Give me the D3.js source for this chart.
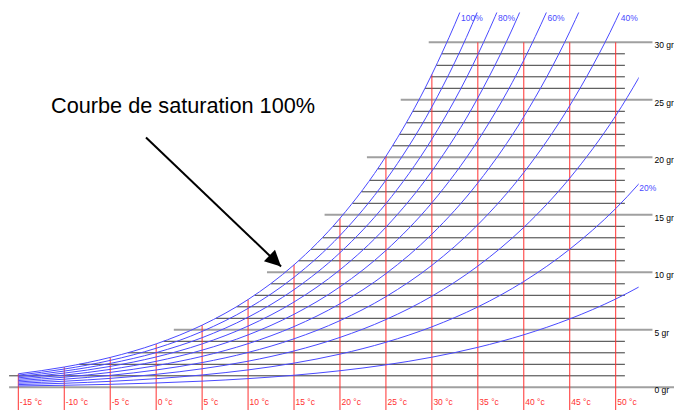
<!DOCTYPE html>
<html>
<head>
<meta charset="utf-8">
<script src="https://cdn.jsdelivr.net/npm/d3@7"></script>
<style>
  html, body { margin: 0; padding: 0; background: #fff; }
  svg { display: block; }
</style>
</head>
<body>
<svg id="chart" width="674" height="410"></svg>
<script>
// ---- data ----
const tableTemps = [-15, -10, -5, 0, 5, 10, 15, 20, 25, 30, 35, 40, 45, 50, 55];            // °C
const satPressure = [0.1913, 0.2865, 0.4215, 0.6112, 0.8726, 1.2282, 1.7058, 2.3393,
                     3.1699, 4.2470, 5.6290, 7.3849, 9.5959, 12.352, 15.762];               // kPa
const rhLevels = [10, 20, 30, 40, 50, 60, 70, 80, 90, 100];                                // %
const rhLabelled = [100, 80, 60, 40, 20];
const tempTicks = [-15, -10, -5, 0, 5, 10, 15, 20, 25, 30, 35, 40, 45, 50];
const humidityTicks = d3.range(0, 31);                                                      // g/kg
const majorHumidity = [0, 5, 10, 15, 20, 25, 30];
const annotation = "Courbe de saturation 100%";
const pressure = 101.325;   // kPa
const rhTopGr = 32.6;       // upper end of the curves (g/kg)
const rhMaxT = 52.5;        // right end of the curves (°C)

// ---- scales ----
const x = d3.scaleLinear().domain([-15, 50]).range([18.3, 615.7]);
const y = d3.scaleLinear().domain([0, 30]).range([387.3, 42.3]);
const tFromLnP = d3.scaleLinear().domain(satPressure.map(Math.log)).range(tableTemps);
const lnPFromT = d3.scaleLinear().domain(tableTemps).range(satPressure.map(Math.log));

const mix = pv => 622 * pv / (pressure - pv);          // g/kg from vapour pressure
const pvFromMix = g => pressure * g / (622 + g);
const dewPoint = g => tFromLnP(Math.log(pvFromMix(g)));
const satMix = t => mix(Math.exp(lnPFromT(t)));

const svg = d3.select("#chart");
const defs = svg.append("defs");
defs.append("clipPath").attr("id", "rhclip").append("rect")
  .attr("x", 0).attr("y", y(rhTopGr))
  .attr("width", x(rhMaxT)).attr("height", 410 - y(rhTopGr));

// ---- horizontal humidity lines ----
const gH = svg.append("g");
humidityTicks.forEach(g => {
  const major = majorHumidity.includes(g);
  let t0;
  if (g === 0) t0 = -16;
  else t0 = Math.max(-16, dewPoint(g) - (major ? 2 : 0));
  const t1 = g === 0 ? 60 : (major ? 54 : 51);
  gH.append("line")
    .attr("x1", x(t0)).attr("x2", x(t1))
    .attr("y1", y(g)).attr("y2", y(g))
    .attr("stroke", major ? "#a0a0a0" : "#3a3a3a")
    .attr("stroke-width", major ? 2 : 1);
  if (major) {
    gH.append("text")
      .attr("x", x(54) + 2).attr("y", y(g) + 6)
      .attr("font-family", "Liberation Sans, Arial, sans-serif")
      .attr("font-size", 8.5).attr("fill", "#000")
      .text(g + " gr");
  }
});

// ---- vertical temperature lines ----
const gV = svg.append("g");
tempTicks.forEach(t => {
  const top = Math.min(satMix(t), 30);
  gV.append("line")
    .attr("x1", x(t)).attr("x2", x(t))
    .attr("y1", y(top)).attr("y2", 410)
    .attr("stroke", "#ff3030").attr("stroke-width", 1);
  gV.append("text")
    .attr("x", x(t) + 1.5).attr("y", 405)
    .attr("font-family", "Liberation Sans, Arial, sans-serif")
    .attr("font-size", 8.5).attr("fill", "#ff3030")
    .text(t + " °c");
});

// ---- relative humidity curves ----
const line = d3.line()
  .x(d => x(d.t)).y(d => y(d.g))
  .curve(d3.curveMonotoneX);
const gC = svg.append("g").attr("clip-path", "url(#rhclip)");
rhLevels.forEach(rh => {
  const pts = tableTemps.map((t, i) => ({ t, g: mix(rh / 100 * satPressure[i]) }));
  gC.append("path")
    .attr("d", line(pts))
    .attr("fill", "none")
    .attr("stroke", "#4a4aff")
    .attr("stroke-width", 1);
});

// labels of curves
rhLabelled.forEach(rh => {
  const tTop = tFromLnP(Math.log(pvFromMix(rhTopGr) / (rh / 100)));
  let lx, ly;
  if (tTop <= rhMaxT) {
    lx = x(tTop) + 1; ly = y(rhTopGr) + 9;
  } else {
    const gEnd = mix(rh / 100 * Math.exp(lnPFromT(rhMaxT)));
    lx = x(rhMaxT) + 0.5; ly = y(gEnd) + 6;
  }
  svg.append("text")
    .attr("x", lx).attr("y", ly)
    .attr("font-family", "Liberation Sans, Arial, sans-serif")
    .attr("font-size", 8.5).attr("fill", "#4a4aff")
    .text(rh + "%");
});

// ---- annotation ----
defs.append("marker").attr("id", "head")
  .attr("viewBox", "0 0 10 10").attr("refX", 10).attr("refY", 5)
  .attr("markerWidth", 11).attr("markerHeight", 8).attr("markerUnits", "strokeWidth")
  .attr("orient", "auto")
  .append("path").attr("d", "M0,0 L10,5 L0,10 Z").attr("fill", "#000");

svg.append("text")
  .attr("x", 51).attr("y", 113)
  .attr("font-family", "Liberation Sans, Arial, sans-serif")
  .attr("font-size", 21.7).attr("fill", "#000")
  .text(annotation);

const tipG = 10.5, tipT = dewPoint(tipG) - 1.2;
svg.append("line")
  .attr("x1", 146).attr("y1", 137.5)
  .attr("x2", x(tipT)).attr("y2", y(tipG))
  .attr("stroke", "#000").attr("stroke-width", 2)
  .attr("marker-end", "url(#head)");
</script>
</body>
</html>
